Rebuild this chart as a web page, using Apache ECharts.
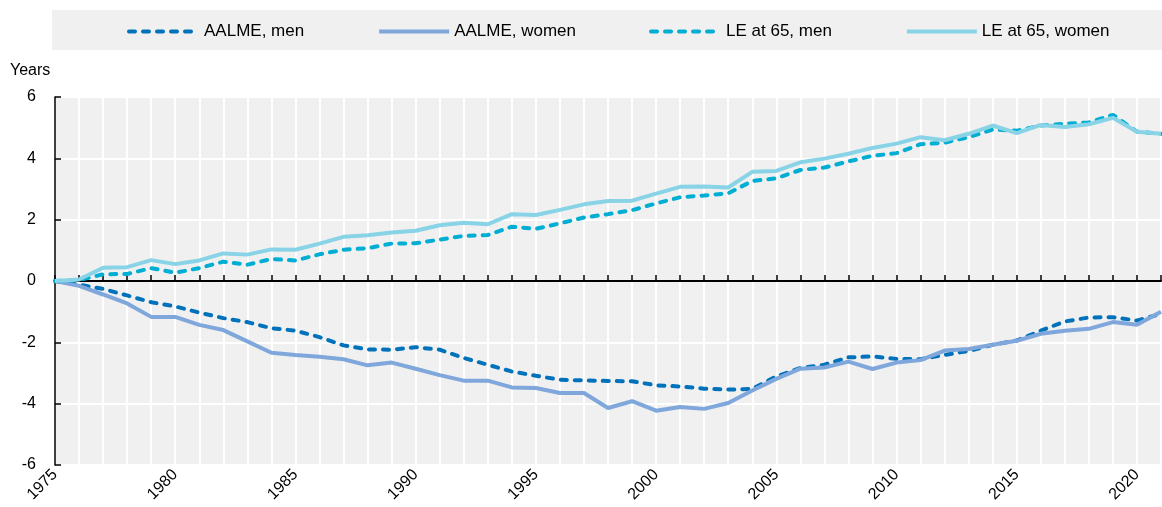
<!DOCTYPE html>
<html>
<head>
<meta charset="utf-8">
<title>AALME and LE at 65</title>
<script src="https://cdn.jsdelivr.net/npm/echarts@6/dist/echarts.min.js"></script>
<style>
  html, body { margin: 0; padding: 0; background: #fff; }
  #chart { width: 1162px; height: 507px; }
</style>
</head>
<body>
<div id="chart"></div>
<script>
// categories
const years = ['1975', '1976', '1977', '1978', '1979', '1980', '1981', '1982', '1983', '1984',
    '1985', '1986', '1987', '1988', '1989', '1990', '1991', '1992', '1993', '1994',
    '1995', '1996', '1997', '1998', '1999', '2000', '2001', '2002', '2003', '2004',
    '2005', '2006', '2007', '2008', '2009', '2010', '2011', '2012', '2013', '2014',
    '2015', '2016', '2017', '2018', '2019', '2020', '2021']

// change since 1975, years
const aalmeMen = [0, -0.12, -0.26, -0.47, -0.69, -0.83, -1.03, -1.21, -1.34, -1.54,
    -1.62, -1.83, -2.1, -2.23, -2.24, -2.16, -2.24, -2.51, -2.73, -2.95,
    -3.09, -3.22, -3.24, -3.26, -3.27, -3.4, -3.44, -3.51, -3.54, -3.52,
    -3.11, -2.84, -2.73, -2.49, -2.46, -2.54, -2.55, -2.41, -2.28, -2.08,
    -1.94, -1.62, -1.32, -1.19, -1.18, -1.29, -1.07]
const aalmeWomen = [0, -0.16, -0.44, -0.73, -1.17, -1.17, -1.43, -1.6, -1.97, -2.34,
    -2.41, -2.47, -2.55, -2.75, -2.66, -2.86, -3.07, -3.25, -3.25, -3.47,
    -3.49, -3.65, -3.65, -4.14, -3.92, -4.23, -4.11, -4.17, -3.98, -3.57,
    -3.19, -2.86, -2.82, -2.63, -2.87, -2.66, -2.58, -2.27, -2.22, -2.08,
    -1.95, -1.72, -1.62, -1.56, -1.34, -1.43, -1.0]
const leMen = [0, 0.03, 0.22, 0.23, 0.42, 0.27, 0.42, 0.63, 0.53, 0.72,
    0.67, 0.87, 1.02, 1.07, 1.22, 1.23, 1.35, 1.47, 1.5, 1.77,
    1.7, 1.88, 2.07, 2.18, 2.31, 2.53, 2.73, 2.79, 2.86, 3.26,
    3.35, 3.62, 3.7, 3.9, 4.08, 4.17, 4.46, 4.51, 4.69, 4.94,
    4.9, 5.07, 5.13, 5.17, 5.42, 4.87, 4.8]
const leWomen = [0, 0.05, 0.43, 0.45, 0.68, 0.55, 0.67, 0.9, 0.86, 1.03,
    1.02, 1.22, 1.44, 1.49, 1.58, 1.64, 1.82, 1.9, 1.85, 2.18,
    2.15, 2.32, 2.5, 2.61, 2.62, 2.85, 3.07, 3.08, 3.05, 3.56,
    3.59, 3.87, 3.99, 4.15, 4.34, 4.48, 4.69, 4.59, 4.8, 5.07,
    4.82, 5.09, 5.02, 5.11, 5.32, 4.87, 4.8]

const FONT = '"Liberation Sans", Arial, sans-serif'

let chart = echarts.init(document.getElementById('chart'))

function lineSeries(name, data, color, dashed) {
    return {
        name: name,
        type: 'line',
        xAxisIndex: 0,
        yAxisIndex: 0,
        data: data,
        symbol: 'none',
        showSymbol: false,
        lineStyle: {
            color: color,
            width: 4,
            type: dashed ? [6, 8] : 'solid',
            cap: dashed ? 'round' : 'butt'
        },
        itemStyle: { color: color },
        emphasis: { disabled: true }
    }
}

const option = {
    animation: false,
    textStyle: { fontFamily: FONT },
    title: {
        text: 'Years',
        left: 10,
        top: 63,
        padding: 0,
        textStyle: { fontFamily: FONT, fontSize: 16, fontWeight: 'normal', color: '#000' }
    },
    graphic: [{
        type: 'rect',
        left: 52,
        top: 10,
        shape: { width: 1110, height: 40 },
        style: { fill: '#f0f0f0' },
        silent: true,
        z: -1
    }],
    legend: {
        left: 127,
        top: 23,
        padding: 0,
        itemGap: 73,
        itemWidth: 70,
        itemHeight: 14,
        itemStyle: { opacity: 0 },
        lineStyle: { width: 4 },
        textStyle: { fontFamily: FONT, fontSize: 17, color: '#000' },
        data: ['AALME, men', 'AALME, women', 'LE at 65, men', 'LE at 65, women']
    },
    grid: {
        left: 55,
        right: 1,
        top: 97,
        bottom: 42,
        show: true,
        backgroundColor: '#f0f0f0',
        borderWidth: 0,
        containLabel: false,
        outerBoundsMode: 'none'
    },
    xAxis: [{
        type: 'category',
        data: years,
        boundaryGap: false,
        position: 'bottom',
        axisLine: { show: true, onZero: true, lineStyle: { color: '#000', width: 2 } },
        axisTick: { show: true, inside: true, length: 6, interval: 0, lineStyle: { color: '#000', width: 1.5 } },
        axisLabel: { show: false },
        splitLine: { show: true, interval: 0, lineStyle: { color: '#fff', width: 2 } }
    }, {
        type: 'category',
        data: years,
        boundaryGap: false,
        position: 'bottom',
        axisLine: { show: false, onZero: false },
        axisTick: { show: false },
        splitLine: { show: false },
        axisLabel: {
            show: true,
            rotate: 45,
            margin: 7,
            fontFamily: FONT,
            fontSize: 16,
            color: '#000',
            interval: function (index, value) {
                return Number(value) % 5 === 0
            }
        }
    }],
    yAxis: {
        type: 'value',
        min: -6,
        max: 6,
        interval: 2,
        axisLine: { show: true, lineStyle: { color: '#000', width: 1.5 } },
        axisTick: { show: true, inside: true, length: 6, lineStyle: { color: '#000', width: 1.5 } },
        axisLabel: { margin: 19, fontFamily: FONT, fontSize: 16, color: '#000' },
        splitLine: { show: true, lineStyle: { color: '#fff', width: 2 } }
    },
    series: [
        lineSeries('AALME, men', aalmeMen, '#0072BC', true),
        lineSeries('AALME, women', aalmeWomen, '#7FA7DB', false),
        lineSeries('LE at 65, men', leMen, '#00ADD3', true),
        lineSeries('LE at 65, women', leWomen, '#88D3E6', false)
    ]
}

chart.setOption(option)
</script>
</body>
</html>
